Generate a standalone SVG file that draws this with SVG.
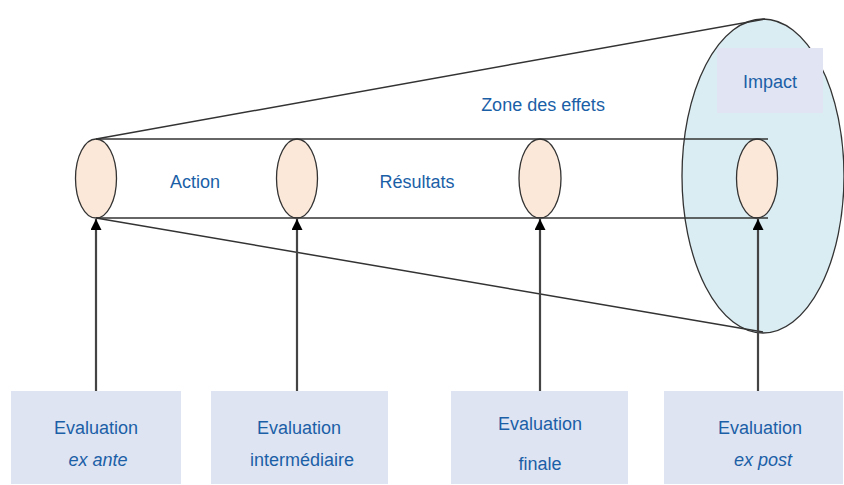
<svg xmlns="http://www.w3.org/2000/svg" width="844" height="485" viewBox="0 0 844 485">
<defs>
<style>
.t{font-family:"Liberation Sans",Arial,sans-serif;font-size:18px;fill:#1b5fa7;text-anchor:middle}
.i{font-style:italic}
.box{fill:#dfe4f2}
.ring{fill:#fce8d8;stroke:#333;stroke-width:1.3}
.ln{stroke:#333;stroke-width:1.5;fill:none}
.ar{stroke:#444;stroke-width:2.2;fill:none;marker-end:url(#ah)}
</style>
<marker id="ah" markerWidth="11" markerHeight="11" refX="10" refY="5" orient="auto" markerUnits="userSpaceOnUse" viewBox="0 0 10 10">
<path d="M0,0 L10,5 L0,10 Z" fill="#000"/>
</marker>
</defs>
<rect width="844" height="485" fill="#fff"/>
<g id="impact-zone">
<ellipse cx="763" cy="176" rx="81" ry="157" fill="#daedf3" stroke="#333" stroke-width="1.3"/>
</g>
<g id="impact">
<rect x="717" y="48" width="106" height="65" fill="#e1e5f3"/>
<text class="t" x="770" y="88">Impact</text>
</g>
<g id="n-exante-ring"><ellipse class="ring" cx="96" cy="178.5" rx="20.5" ry="39.5"/></g>
<g id="n-inter-ring"><ellipse class="ring" cx="297" cy="178.5" rx="20.5" ry="39.5"/></g>
<g id="n-finale-ring"><ellipse class="ring" cx="540" cy="178.5" rx="21" ry="39.5"/></g>
<g id="n-expost-ring"><ellipse class="ring" cx="757" cy="178.5" rx="20.5" ry="39.5"/></g>
<g id="connectors">
<line class="ln" x1="96" y1="139" x2="765" y2="19"/>
<line class="ln" x1="96" y1="218" x2="763" y2="332"/>
<line class="ln" x1="96" y1="139" x2="768" y2="139"/>
<line class="ln" x1="96" y1="218" x2="768" y2="218"/>
<path class="ar" d="M96,391 V219"/>
<path class="ar" d="M297,391 V219"/>
<path class="ar" d="M540,391 V219"/>
<path class="ar" d="M758,391 V219"/>
</g>
<g id="labels">
<text class="t" x="195" y="188">Action</text>
<text class="t" x="417" y="188">Résultats</text>
<text class="t" x="543" y="111">Zone des effets</text>
</g>
<g id="eval-exante">
<rect class="box" x="11" y="391" width="170" height="93"/>
<text class="t" x="96" y="434">Evaluation</text>
<text class="t i" x="98" y="466">ex ante</text>
</g>
<g id="eval-inter">
<rect class="box" x="211" y="391" width="177" height="93"/>
<text class="t" x="299" y="434">Evaluation</text>
<text class="t" x="302" y="466">intermédiaire</text>
</g>
<g id="eval-finale">
<rect class="box" x="451" y="391" width="177" height="93"/>
<text class="t" x="540" y="430">Evaluation</text>
<text class="t" x="540" y="470">finale</text>
</g>
<g id="eval-expost">
<rect class="box" x="664" y="391" width="179" height="93"/>
<text class="t" x="760" y="434">Evaluation</text>
<text class="t i" x="763" y="466">ex post</text>
</g>
</svg>
